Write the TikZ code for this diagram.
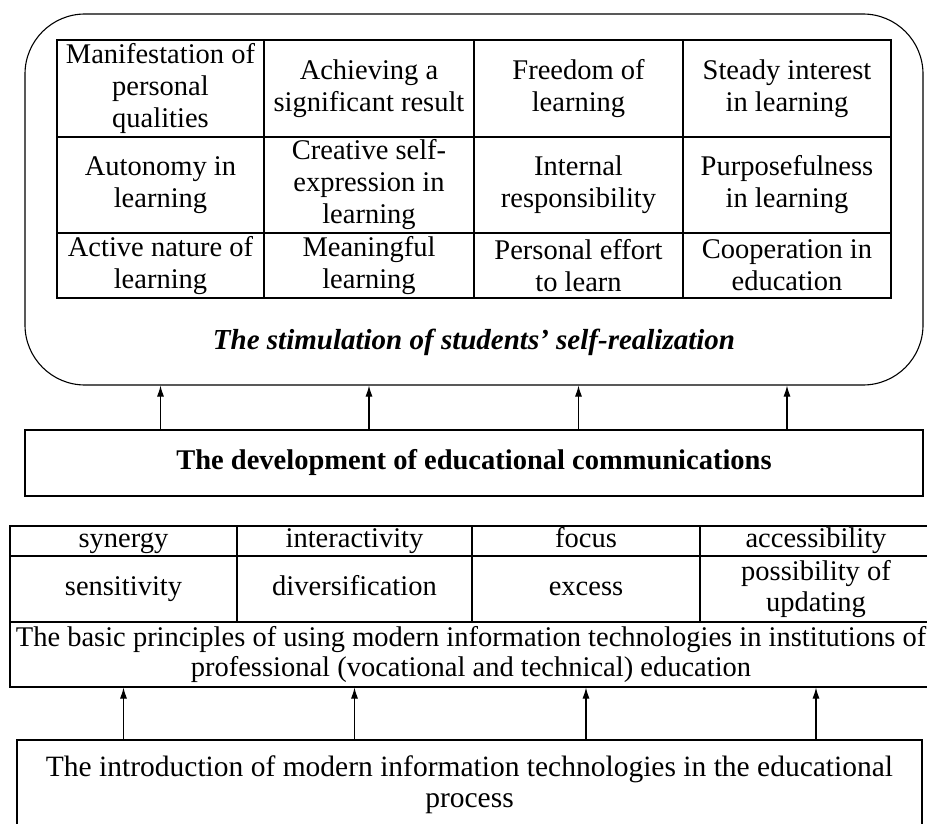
\documentclass[tikz,border=0pt]{standalone}
\usepackage{fontspec}
\setmainfont{Liberation Serif}
\usetikzlibrary{arrows.meta}

\tikzset{
  cell/.style={draw, line width=1.1pt, inner sep=0pt, align=center,
    font=\fontsize{28.5}{32}\selectfont},
  lowcell/.style={cell, font=\fontsize{28.5}{30.5}\selectfont},
  oneline/.style={text height=19pt, text depth=6pt},
  frame/.style={draw, line width=1.1pt, inner sep=0pt, align=center},
  up/.style={-{Latex[length=11pt,width=7pt]}, line width=1.1pt},
}

\begin{document}
\begin{tikzpicture}[x=1pt,y=-1pt]
	\useasboundingbox (0,0) rectangle (927,824);
	
	%%%%% stimulation block %%%%%
	\node[frame, rounded corners=60pt, minimum width=898pt, minimum height=371pt] (stim) at (474,199.5) {};
	
	\node[cell, minimum width=207pt, minimum height=97pt] (a1) at (160.5,88.5) {Manifestation of\\personal\\qualities};
	\node[cell, minimum width=210pt, minimum height=97pt] (a2) at (369,88.5) {Achieving a\\significant result};
	\node[cell, minimum width=209pt, minimum height=97pt] (a3) at (578.5,88.5) {Freedom of\\learning};
	\node[cell, minimum width=208pt, minimum height=97pt] (a4) at (787,88.5) {Steady interest\\in learning};
	
	\node[cell, minimum width=207pt, minimum height=96pt] (b1) at (160.5,185) {Autonomy in\\learning};
	\node[cell, minimum width=210pt, minimum height=96pt] (b2) at (369,185) {Creative self-\\expression in\\learning};
	\node[cell, minimum width=209pt, minimum height=96pt] (b3) at (578.5,185) {Internal\\responsibility};
	\node[cell, minimum width=208pt, minimum height=96pt] (b4) at (787,185) {Purposefulness\\in learning};
	
	\node[cell, minimum width=207pt, minimum height=65pt] (c1) at (160.5,265.5) {Active nature of\\learning};
	\node[cell, minimum width=210pt, minimum height=65pt] (c2) at (369,265.5) {Meaningful\\learning};
	\node[cell, minimum width=209pt, minimum height=65pt] (c3) at (578.5,265.5) {Personal effort\\to learn};
	\node[cell, minimum width=208pt, minimum height=65pt] (c4) at (787,265.5) {Cooperation in\\education};
	
	\node[font=\fontsize{29}{32}\selectfont\bfseries\itshape] (cap) at (474,342) {The stimulation of students’ self-realization};
	
	%%%%% communications %%%%%
	\node[frame, oneline, minimum width=898pt, minimum height=66pt, font=\fontsize{28.5}{32}\selectfont\bfseries] (dev) at (474,463) {The development of educational communications};
	
	\draw[up] (dev.north -| c1) -- (stim.south -| c1);
	\draw[up] (dev.north -| c2) -- (stim.south -| c2);
	\draw[up] (dev.north -| c3) -- (stim.south -| c3);
	\draw[up] (dev.north -| c4) -- (stim.south -| c4);
	
	%%%%% principles table %%%%%
	\node[lowcell, oneline, minimum width=227pt, minimum height=30pt] (p1) at (123.5,541) {synergy};
	\node[lowcell, oneline, minimum width=235pt, minimum height=30pt] (p2) at (354.5,541) {interactivity};
	\node[lowcell, oneline, minimum width=228pt, minimum height=30pt] (p3) at (586,541) {focus};
	\node[lowcell, oneline, minimum width=232pt, minimum height=30pt] (p4) at (816,541) {accessibility};
	
	\node[lowcell, oneline, minimum width=227pt, minimum height=66pt] (q1) at (123.5,589) {sensitivity};
	\node[lowcell, oneline, minimum width=235pt, minimum height=66pt] (q2) at (354.5,589) {diversification};
	\node[lowcell, oneline, minimum width=228pt, minimum height=66pt] (q3) at (586,589) {excess};
	\node[lowcell, minimum width=232pt, minimum height=66pt] (q4) at (816,589) {possibility of\\updating};
	
	\node[lowcell, minimum width=922pt, minimum height=65pt] (basic) at (471,654.5) {The basic principles of using modern information technologies in institutions of\\professional (vocational and technical) education};
	
	%%%%% introduction %%%%%
	\node[lowcell, minimum width=905pt, minimum height=90pt, font=\fontsize{29.5}{31}\selectfont] (intro) at (469.5,785) {The introduction of modern information technologies in the educational\\process};
	
	\draw[up] (intro.north -| q1) -- (basic.south -| q1);
	\draw[up] (intro.north -| q2) -- (basic.south -| q2);
	\draw[up] (intro.north -| q3) -- (basic.south -| q3);
	\draw[up] (intro.north -| q4) -- (basic.south -| q4);
\end{tikzpicture}
\end{document}
